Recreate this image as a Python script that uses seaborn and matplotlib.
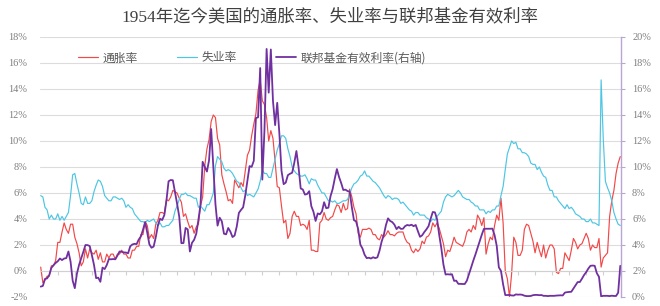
import numpy as np
import pandas as pd
import matplotlib
matplotlib.use('Agg')
import matplotlib.pyplot as plt
from matplotlib.ticker import FuncFormatter, MultipleLocator
import seaborn as sns

# ---------------- data (quarterly samples: Jan / Apr / Jul / Oct) ----------------
start_month = '1954-07-01'
series_names = ['通胀率', '失业率', '联邦基金有效利率(右轴)']

inflation = [
    0.3, -0.9,
    -0.7, -0.4, -0.4, 0.4,
    0.4, 0.8, 2.2, 2.2,
    3.0, 3.7, 3.2, 2.9,
    3.6, 3.6, 2.6, 2.1,
    1.4, 0.4, 0.7, 1.7,
    1.0, 1.7, 1.4, 1.3,
    1.6, 0.9, 1.4, 0.7,
    0.7, 1.3, 1.0, 1.3,
    1.3, 0.9, 1.3, 1.3,
    1.6, 1.3, 1.3, 1.0,
    1.0, 1.6, 1.6, 1.9,
    1.9, 2.8, 2.8, 3.8,
    3.5, 2.5, 2.8, 2.5,
    3.6, 3.9, 4.5, 4.5,
    4.4, 5.5, 5.4, 5.7,
    6.2, 6.1, 6.0, 5.6,
    5.3, 4.2, 4.4, 3.8,
    3.3, 3.5, 2.9, 3.4,
    3.6, 5.0, 5.7, 8.1,
    9.4, 10.1, 11.5, 12.0,
    11.8, 10.2, 9.7, 7.4,
    6.7, 6.1, 5.4, 5.5,
    5.2, 7.0, 6.7, 6.4,
    6.8, 6.5, 7.7, 8.9,
    9.3, 10.4, 11.3, 12.1,
    13.9, 14.7, 13.1, 12.8,
    11.8, 10.0, 10.8, 10.2,
    8.4, 6.5, 6.4, 5.0,
    3.7, 3.9, 2.5, 2.9,
    4.2, 4.6, 4.2, 4.2,
    3.5, 3.6, 3.5, 3.2,
    3.9, 1.6, 1.6, 1.5,
    1.5, 3.7, 3.9, 4.5,
    4.0, 3.9, 4.1, 4.2,
    4.7, 5.1, 5.0, 4.5,
    5.2, 4.7, 4.8, 6.3,
    5.7, 4.9, 4.4, 2.9,
    2.6, 3.2, 3.2, 3.2,
    3.3, 3.2, 2.8, 2.8,
    2.5, 2.4, 2.8, 2.6,
    2.8, 3.1, 2.8, 2.8,
    2.7, 2.9, 3.0, 3.0,
    3.0, 2.5, 2.2, 2.1,
    1.6, 1.4, 1.7, 1.5,
    1.7, 2.3, 2.1, 2.6,
    2.7, 3.0, 3.7, 3.4,
    3.7, 3.3, 2.7, 2.1,
    1.1, 1.6, 1.5, 2.0,
    2.6, 2.2, 2.1, 2.0,
    1.9, 2.3, 3.0, 3.2,
    3.0, 3.5, 3.2, 4.3,
    4.0, 3.5, 4.1, 1.3,
    2.1, 2.6, 2.4, 3.5,
    4.3, 3.9, 5.6, 3.7,
    0.0, -0.6, -2.0, -0.2,
    2.6, 2.2, 1.2, 1.2,
    1.6, 3.2, 3.6, 3.5,
    2.9, 2.3, 1.4, 2.2,
    1.6, 1.1, 2.0, 1.0,
    1.6, 2.0, 2.0, 1.7,
    -0.1, -0.2, 0.2, 0.2,
    1.4, 1.1, 0.8, 1.6,
    2.5, 2.2, 1.7, 2.0,
    2.1, 2.5, 2.9, 2.5,
    1.6, 2.0, 1.8, 1.8,
    2.5, 0.3, 1.0, 1.2,
    1.4, 4.2, 5.4, 6.2,
    7.5, 8.3, 8.8,
]

unemployment = [
    5.8, 5.7,
    4.9, 4.7, 4.0, 4.3,
    4.0, 4.0, 4.4, 3.9,
    4.2, 3.9, 4.2, 4.5,
    5.8, 7.4, 7.5, 6.7,
    6.0, 5.2, 5.1, 5.7,
    5.2, 5.2, 5.4, 6.1,
    6.6, 7.0, 6.9, 6.5,
    5.8, 5.6, 5.4, 5.4,
    5.7, 5.7, 5.6, 5.5,
    5.6, 5.4, 4.9, 5.1,
    4.9, 4.8, 4.4, 4.2,
    4.0, 3.8, 3.8, 3.7,
    3.9, 3.8, 3.9, 4.0,
    3.7, 3.5, 3.7, 3.4,
    3.4, 3.5, 3.5, 3.7,
    3.9, 4.6, 5.0, 5.5,
    5.9, 5.9, 6.0, 5.8,
    5.8, 5.7, 5.6, 5.6,
    4.9, 5.0, 4.8, 4.6,
    5.1, 5.1, 5.5, 6.0,
    8.1, 8.8, 8.6, 8.4,
    7.9, 7.7, 7.8, 7.7,
    7.5, 7.2, 6.9, 6.8,
    6.4, 6.1, 6.2, 5.8,
    5.9, 5.8, 5.7, 6.0,
    6.3, 6.9, 7.8, 7.5,
    7.5, 7.2, 7.2, 7.9,
    8.6, 9.3, 9.8, 10.4,
    10.4, 10.2, 9.4, 8.8,
    8.0, 7.7, 7.5, 7.4,
    7.3, 7.3, 7.4, 7.1,
    6.7, 7.1, 7.0, 7.0,
    6.6, 6.3, 6.0, 6.0,
    5.7, 5.4, 5.4, 5.3,
    5.4, 5.2, 5.2, 5.3,
    5.4, 5.4, 5.5, 5.9,
    6.4, 6.7, 6.8, 7.0,
    7.3, 7.4, 7.7, 7.3,
    7.3, 7.1, 6.9, 6.8,
    6.6, 6.4, 6.1, 5.8,
    5.6, 5.8, 5.7, 5.5,
    5.6, 5.6, 5.5, 5.2,
    5.3, 5.1, 4.9, 4.7,
    4.6, 4.3, 4.5, 4.5,
    4.3, 4.3, 4.3, 4.1,
    4.0, 3.8, 4.0, 3.9,
    4.2, 4.4, 4.6, 5.3,
    5.7, 5.9, 5.8, 5.7,
    5.8, 6.0, 6.2, 6.0,
    5.7, 5.6, 5.5, 5.5,
    5.3, 5.2, 5.0, 5.0,
    4.7, 4.7, 4.7, 4.4,
    4.6, 4.5, 4.7, 4.7,
    5.0, 5.0, 5.8, 6.5,
    7.8, 9.0, 9.5, 10.0,
    9.8, 9.9, 9.4, 9.4,
    9.1, 9.1, 9.0, 8.8,
    8.3, 8.2, 8.2, 7.8,
    8.0, 7.6, 7.3, 7.2,
    6.6, 6.2, 6.2, 5.7,
    5.7, 5.4, 5.2, 5.0,
    4.8, 5.1, 4.8, 4.9,
    4.7, 4.4, 4.3, 4.2,
    4.0, 4.0, 3.8, 3.8,
    4.0, 3.7, 3.7, 3.6,
    3.5, 14.7, 10.2, 6.9,
    6.4, 6.0, 5.4, 4.5,
    4.0, 3.6, 3.5,
]

fed_funds = [
    0.80, 0.85,
    1.39, 1.43, 1.68, 2.24,
    2.45, 2.62, 2.75, 2.96,
    2.84, 2.96, 2.99, 3.50,
    2.72, 1.26, 0.68, 1.80,
    2.48, 2.96, 3.47, 4.00,
    3.99, 3.92, 3.23, 2.47,
    1.45, 1.49, 1.17, 2.26,
    2.15, 2.46, 2.92, 2.90,
    2.92, 2.90, 3.18, 3.50,
    3.48, 3.43, 3.42, 3.36,
    3.90, 4.04, 4.09, 4.07,
    4.42, 4.65, 5.17, 5.76,
    4.94, 4.05, 3.79, 3.88,
    4.61, 5.50, 6.02, 5.92,
    6.30, 7.41, 8.90, 9.00,
    8.98, 8.10, 7.18, 6.20,
    4.14, 4.15, 5.31, 5.20,
    3.50, 4.17, 4.40, 4.87,
    5.94, 7.12, 10.40, 10.01,
    9.65, 10.51, 12.92, 10.06,
    7.13, 5.49, 6.10, 5.82,
    4.87, 4.82, 5.31, 5.03,
    4.61, 4.73, 5.42, 6.47,
    6.70, 6.90, 7.81, 8.96,
    10.07, 10.01, 10.47, 13.77,
    13.82, 17.61, 9.03, 12.81,
    19.08, 15.72, 19.04, 15.08,
    13.22, 14.94, 12.59, 9.71,
    8.68, 8.80, 9.37, 9.48,
    9.56, 10.32, 11.23, 9.99,
    8.35, 8.27, 7.88, 7.92,
    8.14, 6.99, 6.56, 5.85,
    6.43, 6.36, 6.58, 7.29,
    6.83, 6.87, 7.75, 8.30,
    9.12, 9.84, 9.24, 8.77,
    8.23, 8.26, 8.15, 8.11,
    6.91, 5.91, 5.82, 5.21,
    4.03, 3.73, 3.25, 2.99,
    3.02, 2.96, 3.06, 2.99,
    3.05, 3.56, 4.26, 4.76,
    5.53, 6.05, 5.85, 5.76,
    5.56, 5.22, 5.40, 5.24,
    5.25, 5.45, 5.54, 5.50,
    5.56, 5.45, 5.54, 5.07,
    4.63, 4.74, 4.99, 5.20,
    5.45, 6.02, 6.54, 6.51,
    5.98, 4.80, 3.77, 2.49,
    1.73, 1.75, 1.73, 1.75,
    1.24, 1.26, 1.01, 1.01,
    1.00, 1.00, 1.26, 1.76,
    2.28, 2.79, 3.26, 3.78,
    4.29, 4.79, 5.24, 5.25,
    5.25, 5.25, 5.26, 4.76,
    3.94, 2.28, 2.01, 0.97,
    0.15, 0.15, 0.16, 0.12,
    0.11, 0.20, 0.18, 0.19,
    0.17, 0.10, 0.07, 0.07,
    0.08, 0.14, 0.16, 0.16,
    0.14, 0.15, 0.09, 0.09,
    0.07, 0.09, 0.09, 0.09,
    0.11, 0.12, 0.13, 0.12,
    0.34, 0.37, 0.39, 0.40,
    0.65, 0.90, 1.15, 1.15,
    1.41, 1.69, 1.91, 2.19,
    2.40, 2.42, 2.40, 1.83,
    1.55, 0.05, 0.09, 0.09,
    0.09, 0.07, 0.10, 0.08,
    0.08, 0.33, 2.40,
]

left_ticks = list(range(-2, 19, 2))
right_ticks = list(range(0, 21, 2))
title_text = '1954年迄今美国的通胀率、失业率与联邦基金有效利率'

# ---------------- styling ----------------
sns.set_theme(style='white')
plt.rcParams['font.family'] = ['Noto Sans CJK SC', 'DejaVu Sans']

RED = '#f24848'
CYAN = '#4cc6e3'
PURPLE = '#7030a0'
GRID = '#dcdcdc'
LABEL = '#7f7f7f'

dates = pd.date_range(start_month, periods=len(inflation), freq='QS-JAN')
df = pd.DataFrame({'date': dates, 'infl': inflation,
                   'unemp': unemployment, 'fed': fed_funds})

fig = plt.figure(figsize=(6.6, 3.06), dpi=100)
ax = fig.add_axes([40 / 660, 1 - 297 / 306, 581 / 660, 260 / 306])
ax2 = ax.twinx()

sns.lineplot(data=df, x='date', y='infl', ax=ax, color=RED, linewidth=0.85, legend=False)
sns.lineplot(data=df, x='date', y='unemp', ax=ax, color=CYAN, linewidth=0.85, legend=False)
sns.lineplot(data=df, x='date', y='fed', ax=ax2, color=PURPLE, linewidth=1.3, legend=False)

xmin, xmax = pd.Timestamp('1954-06-01'), pd.Timestamp('2022-08-01')
ax.set_xlim(xmin, xmax)
ax2.set_xlim(xmin, xmax)
ax.set_ylim(-2, 18)
ax2.set_ylim(0, 20)

ax.set_xlabel('')
ax.set_ylabel('')
ax2.set_xlabel('')
ax2.set_ylabel('')

# left axis
ax.set_yticks(left_ticks)
ax.yaxis.set_major_formatter(FuncFormatter(lambda v, p: f'{int(round(v))}%'))
ax.yaxis.grid(True, color=GRID, linewidth=0.8)
ax.xaxis.grid(False)
ax.set_axisbelow(True)
for s in ['left', 'top', 'right']:
    ax.spines[s].set_visible(False)
ax.spines['bottom'].set_position(('data', 0))
ax.spines['bottom'].set_color('#d0d0d0')
ax.spines['bottom'].set_linewidth(0.8)
ax.set_xticks(pd.date_range('1954-07-01', '2022-08-01', freq='24MS'))
ax.set_xticklabels([])
ax.tick_params(axis='x', direction='out', length=3, width=0.8, color='#d0d0d0', bottom=True)
ax.tick_params(axis='y', length=0, pad=9, labelsize=7.5, labelcolor=LABEL)
for t in ax.get_yticklabels():
    t.set_family(['Liberation Serif', 'DejaVu Serif'])

# right axis
ax2.set_yticks(right_ticks)
ax2.yaxis.set_major_formatter(FuncFormatter(lambda v, p: f'{int(round(v))}%'))
ax2.grid(False)
for s in ['left', 'top', 'bottom']:
    ax2.spines[s].set_visible(False)
ax2.spines['right'].set_color('#b8a6d6')
ax2.spines['right'].set_linewidth(1.0)
ax2.tick_params(axis='y', direction='out', length=3, width=0.8, color='#b8a6d6',
                pad=5, labelsize=7.5, labelcolor=LABEL)
for t in ax2.get_yticklabels():
    t.set_family(['Liberation Serif', 'DejaVu Serif'])

# legend
handles = [ax.lines[0], ax.lines[1], ax2.lines[0]]
leg = ax2.legend(handles, series_names, loc='center left',
                 bbox_to_anchor=(78 / 660, 1 - 58 / 306), bbox_transform=fig.transFigure,
                 ncol=3, frameon=False, fontsize=8.5, handlelength=1.7,
                 handletextpad=0.4, columnspacing=3.3, borderpad=0, borderaxespad=0)
for t in leg.get_texts():
    t.set_color('#595959')

fig.text(0.5, 1 - 17 / 306, title_text, ha='center', va='center', fontsize=12.5,
         color='#404040', family=['Liberation Serif', 'Noto Sans CJK SC'])

fig.savefig('out.png', dpi=100)
